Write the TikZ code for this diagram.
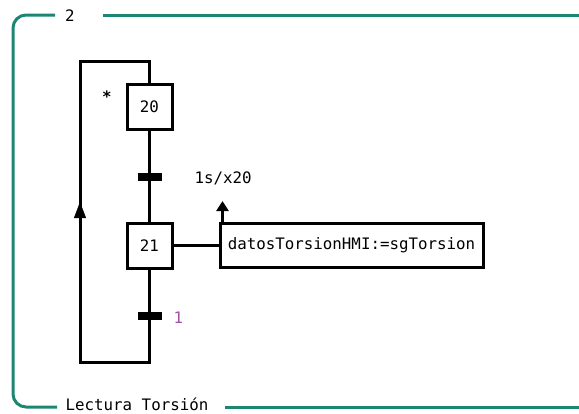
\documentclass[tikz,border=0pt]{standalone}
\usepackage{fontspec}
\setmonofont{DejaVu Sans Mono}
\usetikzlibrary{arrows.meta}
\definecolor{frameteal}{RGB}{28,134,114}
\definecolor{condpurple}{RGB}{160,82,168}
\tikzset{
  stepbox/.style={draw, line width=3pt, minimum width=45pt, minimum height=45pt, inner sep=0pt},
  actbox/.style={draw, line width=3pt, minimum width=263pt, minimum height=44pt, inner sep=0pt},
  trans/.style={line width=8pt},
  link/.style={line width=3pt},
  grafcet/.style={font=\ttfamily\fontsize{15.8}{18}\selectfont}
}
\begin{document}
\begin{tikzpicture}[x=1pt, y=-1pt, grafcet]
\useasboundingbox (0,0) rectangle (579,413);
  % Frame
  \draw[frameteal, line width=3pt, rounded corners=13pt] (55,15) -- (13,15) -- (13,407) -- (57,407);
  \draw[frameteal, line width=3pt] (103,15) -- (579,15);
  \draw[frameteal, line width=3pt] (225,407) -- (579,407);
  \node (num) at (70,16) {2};
  \node (title) at (137,404) {Lectura Torsión};
  % Steps
  \node[stepbox] (s20) at (149.5,106.5) {20};
  \node[stepbox] (s21) at (149.5,245.5) {21};
  \node[font=\ttfamily\bfseries\fontsize{15.8}{18}\selectfont] (init) at (107,97) {*};
  % Transitions
  \coordinate (t1) at (149.5,177);
  \coordinate (t2) at (149.5,316);
  \draw[link] (s20.south) -- (s21.north);
  \draw[trans] ([xshift=-12pt]t1) -- ([xshift=12pt]t1);
  \draw[trans] ([xshift=-12pt]t2) -- ([xshift=12pt]t2);
  \node[anchor=west] (c1) at (191,178) {1s/x20};
  \node[anchor=west, condpurple] (c2) at (170,318) {1};
  % Loop back
  \coordinate (top) at (149.5,61);
  \coordinate (bot) at (149.5,362);
  \draw[link] (s20.north) -- (top) -- (80,61) -- (80,362) -- (bot) -- (s21.south);
  \draw[-{Triangle[width=12pt,length=16pt]}] (80,240) -- (80,202);
  % Action
  \node[actbox] (act) at (351.5,245.5) {datosTorsionHMI:=sgTorsion};
  \draw[link] (s21.east) -- (act.west);
  \draw[link, -{Triangle[width=12pt,length=10pt]}] ([xshift=4pt]act.north west) -- ++(0,-21);
\end{tikzpicture}
\end{document}
